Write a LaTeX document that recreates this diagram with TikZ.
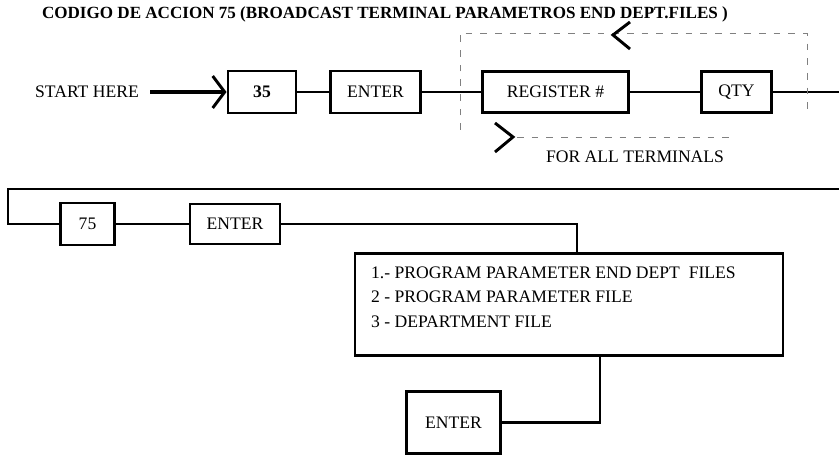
\documentclass[tikz,border=0pt]{standalone}
\usepackage{fontspec}
\setmainfont{Liberation Serif}
\usetikzlibrary{arrows.meta}
\tikzset{
	key/.style={draw, line width=2.2pt, inner sep=0pt},
	wire/.style={line width=2.2pt},
	loopline/.style={draw=gray, line width=0.7pt, dash pattern=on 5pt off 6pt},
	chev/.style={line width=2.2pt, line join=miter},
}
\begin{document}
\begin{tikzpicture}[x=0.75pt,y=-0.75pt,every node/.style={font=\fontsize{13.2}{15}\selectfont}]
		\useasboundingbox (0,0) rectangle (839,456);
		\node[font=\fontsize{12.8}{15}\selectfont\bfseries] (title) at (385,14) {CODIGO DE ACCION 75 (BROADCAST TERMINAL PARAMETROS END DEPT.FILES )};
		\node (start) at (87,92) {START HERE};
		\node[key, minimum width=51pt, minimum height=31.5pt, font=\fontsize{13.2}{15}\selectfont\bfseries] (k35) at (262,92) {35};
		\node[key, minimum width=68pt, minimum height=31.5pt] (enter1) at (375.5,92) {ENTER};
		\node[key, minimum width=109pt, minimum height=31pt] (reg) at (555.5,92) {REGISTER \#};
		\node[key, minimum width=52pt, minimum height=31pt] (qty) at (736.5,92) {QTY};
		\node (forall) at (635,157) {FOR ALL TERMINALS};
		\node[key, minimum width=41pt, minimum height=31.5pt] (k75) at (87.5,224) {75};
		\node[key, minimum width=67.5pt, minimum height=30pt] (enter2) at (235,224) {ENTER};
		\node[key, minimum width=321pt, minimum height=77pt] (menu) at (569,304.5) {};
		\node[anchor=north west, inner sep=0pt, align=left, font=\fontsize{13.2}{18.5}\selectfont] (menutext) at ([xshift=13pt,yshift=-11pt]menu.north west) {1.- PROGRAM PARAMETER END DEPT\ \ FILES\\2 - PROGRAM PARAMETER FILE\\3 - DEPARTMENT FILE};
		\node[key, minimum width=70pt, minimum height=46pt] (enter3) at (453.5,422.5) {ENTER};
		\coordinate (out) at (839,92);
		\coordinate (back) at (839,189);
		\coordinate (turn) at (8,189);
		\draw[line width=3pt, -{Straight Barb[length=9pt,width=24pt,line width=2.2pt]}] ([xshift=5pt]start.east) -- (k35.west);
		\draw[wire] (k35) -- (enter1);
		\draw[wire] (enter1) -- (reg);
		\draw[wire] (reg) -- (qty);
		\draw[wire] (qty) -- (out);
		\draw[loopline] (460,130) -- (460,33) -- (807,33) -- (807,113);
		\draw[loopline] (517,137) -- (733,137);
		\draw[chev] (630,22) -- (613,35) -- (630,49);
		\draw[chev] (495,123) -- (513,137) -- (495,152);
		\draw[wire] (back) -- (turn) |- (k75);
		\draw[wire] (k75) -- (enter2);
		\draw[wire] (enter2) -| ([xshift=6pt]menu.north);
		\draw[wire] ([xshift=23.25pt]menu.south) |- (enter3);
	\end{tikzpicture}
\end{document}
